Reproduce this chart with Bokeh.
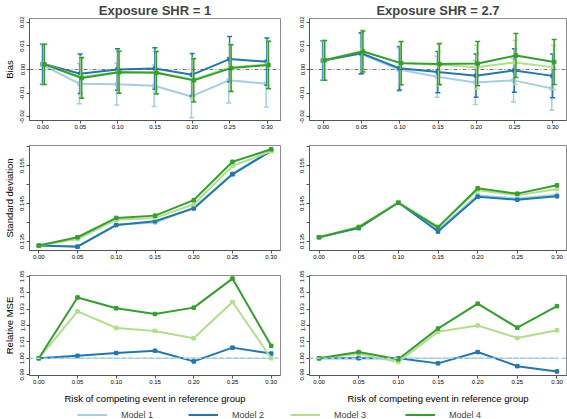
from bokeh.plotting import figure
from bokeh.layouts import column, row
from bokeh.models import Range1d, FixedTicker, NumeralTickFormatter, Span, Legend, LegendItem
from bokeh.embed import file_html
from bokeh.resources import INLINE

# ---------------- data ----------------
risk = [0.00, 0.05, 0.10, 0.15, 0.20, 0.25, 0.30]
models = ["Model 1", "Model 2", "Model 3", "Model 4"]
colors = ["#a6cee3", "#1f78b4", "#b2df8a", "#33a02c"]
panel_titles = ["Exposure SHR = 1", "Exposure SHR = 2.7"]
x_title = "Risk of competing event in reference group"

# Bias, SHR = 1
bias1_m1 = [0.0020, -0.0060, -0.0062, -0.0069, -0.0114, -0.0046, -0.0060]
bias1_m2 = [0.0024, -0.0018, 0.0000, 0.0004, -0.0022, 0.0044, 0.0033]
bias1_m3 = [0.0024, -0.0032, -0.0011, -0.0012, -0.0042, 0.0009, 0.0022]
bias1_m4 = [0.0022, -0.0036, -0.0012, -0.0014, -0.0046, 0.0006, 0.0019]
# half widths of the bias error bars, SHR = 1
err1_m1 = [0.0085, 0.0085, 0.0088, 0.0088, 0.0090, 0.0096, 0.0099]
err1_m2 = [0.0085, 0.0084, 0.0088, 0.0088, 0.0090, 0.0096, 0.0100]
err1_m3 = [0.0085, 0.0086, 0.0089, 0.0089, 0.0091, 0.0098, 0.0100]
err1_m4 = [0.0085, 0.0086, 0.0089, 0.0090, 0.0092, 0.0099, 0.0101]

# Bias, SHR = 2.7
bias2_m1 = [0.0038, 0.0067, 0.0000, -0.0031, -0.0055, -0.0046, -0.0080]
bias2_m2 = [0.0038, 0.0069, 0.0005, -0.0011, -0.0026, -0.0004, -0.0027]
bias2_m3 = [0.0039, 0.0079, 0.0026, 0.0020, 0.0010, 0.0030, 0.0009]
bias2_m4 = [0.0039, 0.0076, 0.0027, 0.0023, 0.0025, 0.0059, 0.0032]
# half widths of the bias error bars, SHR = 2.7
err2_m1 = [0.0084, 0.0087, 0.0092, 0.0087, 0.0093, 0.0092, 0.0093]
err2_m2 = [0.0084, 0.0087, 0.0092, 0.0087, 0.0092, 0.0092, 0.0093]
err2_m3 = [0.0084, 0.0087, 0.0092, 0.0087, 0.0094, 0.0093, 0.0094]
err2_m4 = [0.0084, 0.0087, 0.0092, 0.0087, 0.0094, 0.0093, 0.0095]

# Standard deviation
sd1_m1 = [0.1339, 0.1337, 0.1394, 0.1400, 0.1439, 0.1529, 0.1589]
sd1_m2 = [0.1339, 0.1336, 0.1393, 0.1403, 0.1437, 0.1527, 0.1589]
sd1_m3 = [0.1339, 0.1356, 0.1407, 0.1412, 0.1448, 0.1549, 0.1588]
sd1_m4 = [0.1339, 0.1361, 0.1412, 0.1418, 0.1459, 0.1560, 0.1593]
sd2_m1 = [0.1361, 0.1386, 0.1453, 0.1381, 0.1472, 0.1463, 0.1473]
sd2_m2 = [0.1361, 0.1385, 0.1453, 0.1376, 0.1468, 0.1460, 0.1469]
sd2_m3 = [0.1361, 0.1389, 0.1453, 0.1389, 0.1485, 0.1472, 0.1488]
sd2_m4 = [0.1361, 0.1387, 0.1452, 0.1387, 0.1490, 0.1476, 0.1498]

# Relative MSE
mse1_m1 = [1.0, 1.0, 1.0, 1.0, 1.0, 1.0, 1.0]
mse1_m2 = [1.0000, 1.0015, 1.0032, 1.0046, 0.9981, 1.0065, 1.0029]
mse1_m3 = [1.0000, 1.0286, 1.0185, 1.0167, 1.0122, 1.0343, 1.0000]
mse1_m4 = [1.0000, 1.0371, 1.0305, 1.0270, 1.0309, 1.0486, 1.0076]
mse2_m1 = [1.0, 1.0, 1.0, 1.0, 1.0, 1.0, 1.0]
mse2_m2 = [1.0000, 1.0000, 1.0000, 0.9969, 1.0038, 0.9952, 0.9920]
mse2_m3 = [1.0000, 1.0027, 0.9977, 1.0162, 1.0200, 1.0124, 1.0171]
mse2_m4 = [1.0000, 1.0038, 0.9994, 1.0181, 1.0333, 1.0187, 1.0318]

bias_ticks = [-0.02, -0.01, 0.0, 0.01, 0.02]
sd_ticks = [0.135, 0.140, 0.145, 0.150, 0.155, 0.160]
sd_hidden = [0.140, 0.150, 0.160]
mse_ticks = [0.99, 1.00, 1.01, 1.02, 1.03, 1.04, 1.05]
dodge = [-0.0012, -0.0002, 0.0009, 0.0019]

FONT = "Liberation Sans"

# ---------------- helpers ----------------
def make_fig(col, rowi, xr, yr):
    if col == 0:
        w, ml, mr = 295, 23, 15
    else:
        w, ml, mr = 272, 14, 1
    if rowi == 0:
        h, mt, mb = 140, 15, 20
    elif rowi == 1:
        h, mt, mb = 125, 5, 15
    else:
        h, mt, mb = 141, 10, 26
    p = figure(width=w, height=h, x_range=Range1d(*xr), y_range=Range1d(*yr),
               output_backend="svg", toolbar_location=None,
               min_border_left=ml, min_border_right=mr,
               min_border_top=mt, min_border_bottom=mb)
    p.xgrid.visible = False
    p.ygrid.visible = False
    p.outline_line_color = "#8c8c8c"
    p.outline_line_width = 1
    p.background_fill_color = "white"
    p.border_fill_color = "white"
    for ax in (p.xaxis[0], p.yaxis[0]):
        ax.axis_line_color = "#555555"
        ax.major_tick_line_color = "#555555"
        ax.major_tick_out = 3
        ax.major_tick_in = 0
        ax.minor_tick_line_color = None
        ax.major_label_text_font = FONT
        ax.major_label_text_font_size = "6px"
        ax.major_label_text_color = "black"
        ax.axis_label_text_font = FONT
        ax.axis_label_text_font_size = "9.5px"
        ax.axis_label_text_font_style = "normal"
        ax.axis_label_text_color = "black"
    p.xaxis.major_label_standoff = 1
    p.xaxis.axis_label_standoff = 6
    p.yaxis.major_label_standoff = 2
    p.yaxis.axis_label_standoff = 3
    p.xaxis.ticker = FixedTicker(ticks=risk)
    p.xaxis.formatter = NumeralTickFormatter(format="0.00")
    p.yaxis.major_label_orientation = "vertical"
    if rowi == 0:
        p.title.text = panel_titles[col]
        p.title.align = "center"
        p.title.text_font = FONT
        p.title.text_font_size = "13px"
        p.title.text_font_style = "bold"
        p.title.standoff = 1
    if rowi == 2:
        p.xaxis.axis_label = x_title
    return p


def draw_lines(p, series, marker_size=3.5):
    for vals, c in zip(series, colors):
        p.line(risk, vals, line_color=c, line_width=2)
        p.scatter(risk, vals, marker="square", size=marker_size, color=c)


# ---------------- bias panels ----------------
bias_sets = [
    ([bias1_m1, bias1_m2, bias1_m3, bias1_m4], [err1_m1, err1_m2, err1_m3, err1_m4]),
    ([bias2_m1, bias2_m2, bias2_m3, bias2_m4], [err2_m1, err2_m2, err2_m3, err2_m4]),
]
bias_figs = []
for col, (bvals, evals) in enumerate(bias_sets):
    p = make_fig(col, 0, (-0.018, 0.318), (-0.0216, 0.0216))
    p.yaxis.ticker = FixedTicker(ticks=bias_ticks)
    p.yaxis.formatter = NumeralTickFormatter(format="0.00")
    if col == 0:
        p.yaxis.axis_label = "Bias"
    p.add_layout(Span(location=0, dimension="width", line_color="#555555",
                      line_width=0.8, line_dash="4 2 1 2"))
    for b, e, c, off in zip(bvals, evals, colors, dodge):
        xd = [x + off for x in risk]
        lo = [v - h for v, h in zip(b, e)]
        hi = [v + h for v, h in zip(b, e)]
        p.segment(x0=xd, y0=lo, x1=xd, y1=hi, line_color=c, line_width=1.5)
        p.scatter(xd, lo, marker="dash", size=5, line_color=c, line_width=1.5)
        p.scatter(xd, hi, marker="dash", size=5, line_color=c, line_width=1.5)
        p.line(xd, b, line_color=c, line_width=2)
        p.scatter(xd, b, marker="square", size=3.5, color=c)
    bias_figs.append(p)

# ---------------- SD panels ----------------
sd_sets = [[sd1_m1, sd1_m2, sd1_m3, sd1_m4], [sd2_m1, sd2_m2, sd2_m3, sd2_m4]]
sd_figs = []
for col, svals in enumerate(sd_sets):
    p = make_fig(col, 1, (-0.012, 0.312), (0.1326, 0.1603))
    p.yaxis.ticker = FixedTicker(ticks=sd_ticks)
    p.yaxis.formatter = NumeralTickFormatter(format="0.000")
    p.yaxis.major_label_overrides = {t: "" for t in sd_hidden}
    if col == 0:
        p.yaxis.axis_label = "Standard deviation"
    draw_lines(p, svals)
    sd_figs.append(p)

# ---------------- MSE panels ----------------
mse_sets = [[mse1_m1, mse1_m2, mse1_m3, mse1_m4], [mse2_m1, mse2_m2, mse2_m3, mse2_m4]]
mse_figs = []
for col, mvals in enumerate(mse_sets):
    p = make_fig(col, 2, (-0.012, 0.312), (0.9895, 1.0505))
    p.yaxis.ticker = FixedTicker(ticks=mse_ticks)
    p.yaxis.formatter = NumeralTickFormatter(format="0.00")
    if col == 0:
        p.yaxis.axis_label = "Relative MSE"
    p.add_layout(Span(location=1.0, dimension="width", line_color=colors[0],
                      line_width=1.5, line_dash="4 3"))
    p.line(risk, mvals[0], line_color=colors[0], line_width=1.5, line_dash="4 3")
    for vals, c in zip(mvals[1:], colors[1:]):
        p.line(risk, vals, line_color=c, line_width=2)
        p.scatter(risk, vals, marker="square", size=3.5, color=c)
    mse_figs.append(p)

# ---------------- legend ----------------
leg = figure(width=567, height=13, x_range=Range1d(0, 1), y_range=Range1d(0, 1),
             output_backend="svg", toolbar_location=None,
             min_border_left=0, min_border_right=0, min_border_top=0, min_border_bottom=0,
             x_axis_type=None, y_axis_type=None)
leg.outline_line_color = None
leg.xgrid.visible = False
leg.ygrid.visible = False
legend_x = [77, 188, 290, 405]
for name, c, lx in zip(models, colors, legend_x):
    # dummy renderer outside the visible range, used only for the legend glyph
    r = leg.line([5, 6], [5, 6], line_color=c, line_width=2)
    lg = Legend(items=[LegendItem(label=name, renderers=[r])], location=(lx, -2),
                glyph_width=30, glyph_height=13, label_standoff=14,
                padding=0, margin=0, border_line_color=None, background_fill_alpha=0,
                label_text_font=FONT, label_text_font_size="9px", label_height=13)
    leg.add_layout(lg)

layout = column(
    row(bias_figs[0], bias_figs[1]),
    row(sd_figs[0], sd_figs[1]),
    row(mse_figs[0], mse_figs[1]),
    leg,
)

open("out.html", "w").write(file_html(layout, INLINE))
